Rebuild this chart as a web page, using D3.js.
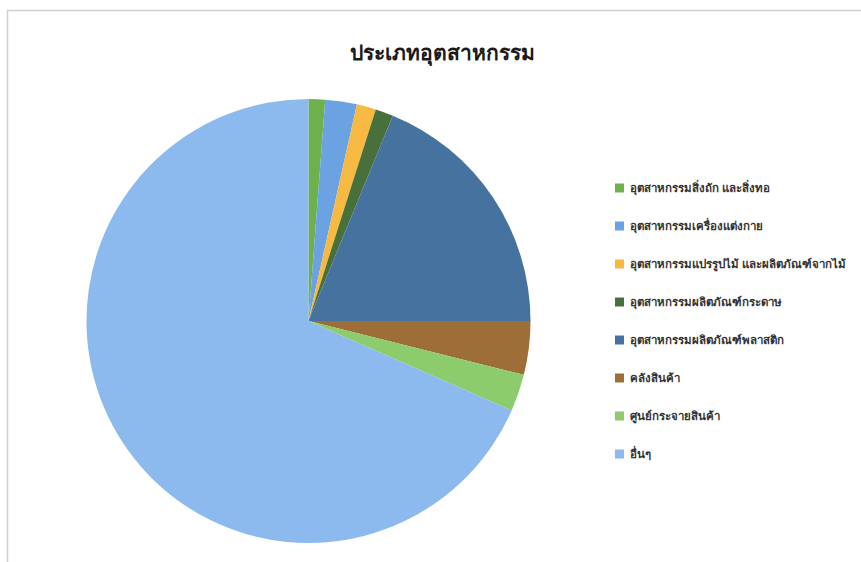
<!DOCTYPE html>
<html>
<head>
<meta charset="utf-8">
<script src="https://cdn.jsdelivr.net/npm/d3@7"></script>
<style>
  html, body { margin: 0; padding: 0; background: #fff; }
  svg { display: block; }
  text { font-family: "Noto Sans", "DejaVu Sans", sans-serif; }
</style>
</head>
<body>
<svg id="chart" width="861" height="562"></svg>
<script>
// Industry categories and their shares (percent)
const categories = [
  "อุตสาหกรรมสิ่งถัก และสิ่งทอ",
  "อุตสาหกรรมเครื่องแต่งกาย",
  "อุตสาหกรรมแปรรูปไม้ และผลิตภัณฑ์จากไม้",
  "อุตสาหกรรมผลิตภัณฑ์กระดาษ",
  "อุตสาหกรรมผลิตภัณฑ์พลาสติก",
  "คลังสินค้า",
  "ศูนย์กระจายสินค้า",
  "อื่นๆ"
];
const shares = [1.2, 2.3, 1.4, 1.3, 18.8, 3.9, 2.7, 68.4];
const sliceColors = ["#6eb04c", "#6ba2e2", "#f7b942", "#48703a", "#45729f", "#9d6e37", "#8ccc6c", "#8cb9ee"];
const chartTitle = "ประเภทอุตสาหกรรม";

const svg = d3.select("#chart");

// chart frame
svg.append("rect")
  .attr("x", 7.5).attr("y", 10.5)
  .attr("width", 900).attr("height", 600)
  .attr("fill", "none").attr("stroke", "#cfcfcf").attr("stroke-width", 1.5);

// title
svg.append("text")
  .attr("x", 442).attr("y", 60)
  .attr("text-anchor", "middle")
  .attr("font-size", 21).attr("font-weight", "bold")
  .attr("fill", "#1a1a1a")
  .text(chartTitle);

const data = categories.map((c, i) => ({ name: c, value: shares[i], color: sliceColors[i] }));

const pie = d3.pie().value(d => d.value).sort(null);
const arc = d3.arc().innerRadius(0).outerRadius(222);

const g = svg.append("g").attr("transform", "translate(308.5,321)");
g.selectAll("path")
  .data(pie(data))
  .join("path")
  .attr("d", arc)
  .attr("fill", d => d.data.color);

// legend
const legendY = d3.scalePoint().domain(categories).range([188, 454]);
const legend = svg.append("g");
const items = legend.selectAll("g")
  .data(data)
  .join("g")
  .attr("transform", d => `translate(615,${legendY(d.name)})`);
items.append("rect")
  .attr("x", 0).attr("y", -4.5)
  .attr("width", 9).attr("height", 9)
  .attr("fill", d => d.color);
items.append("text")
  .attr("x", 15).attr("y", 0)
  .attr("dy", "0.35em")
  .attr("font-size", 11.5)
  .attr("font-weight", "bold")
  .attr("fill", "#333")
  .text(d => d.name);
</script>
</body>
</html>
